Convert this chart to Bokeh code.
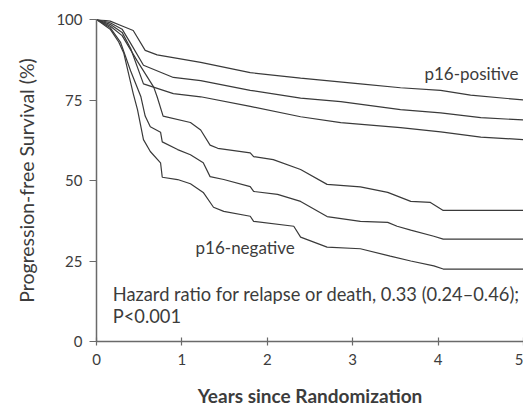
from bokeh.plotting import figure
from bokeh.models import FixedTicker, Range1d
from bokeh.core.properties import value
from bokeh.embed import file_html
from bokeh.resources import INLINE

# Years since randomization (x) and progression-free survival % (y)
pos_hi_t = [0, 0.16, 0.30, 0.43, 0.57, 0.71, 1.22, 1.80, 2.39, 3.09, 3.56, 4.03, 4.38, 5.0]
pos_hi_v = [100, 99.5, 98, 96.6, 90.4, 89, 86.7, 83.5, 81.8, 80, 78.8, 78, 76.5, 75]

pos_mid_t = [0, 0.16, 0.30, 0.40, 0.55, 0.90, 1.22, 1.80, 2.39, 2.86, 3.56, 4.03, 4.50, 5.0]
pos_mid_v = [100, 99, 97, 92.6, 85.8, 82, 81, 78, 75.6, 74.5, 72, 71, 69.5, 68.8]

pos_lo_t = [0, 0.16, 0.30, 0.40, 0.55, 0.90, 1.22, 1.80, 2.39, 2.86, 3.56, 4.03, 4.50, 5.0]
pos_lo_v = [100, 98.5, 96, 91, 80, 77, 76, 73, 69.8, 68, 66.4, 65.1, 63.5, 62.7]

neg_hi_t = [0, 0.16, 0.30, 0.48, 0.67, 0.71, 0.78, 1.10, 1.22, 1.33, 1.42, 1.80, 1.84, 2.07,
            2.39, 2.70, 3.09, 3.41, 3.68, 3.91, 4.06, 5.0]
neg_hi_v = [100, 98, 95, 87, 79, 76, 70, 68, 65.7, 61, 60, 58.6, 57.4, 56.5,
            53.4, 48.8, 48, 46.3, 43.5, 43.2, 40.7, 40.7]

neg_mid_t = [0, 0.16, 0.28, 0.40, 0.52, 0.57, 0.63, 0.75, 0.77, 0.95, 1.10, 1.25, 1.33, 1.49,
             1.80, 1.84, 2.12, 2.39, 2.70, 3.09, 3.41, 3.52, 3.68, 3.95, 4.06, 5.0]
neg_mid_v = [100, 97.5, 93, 84, 76, 70, 66.7, 65, 62, 59.6, 58, 55.5, 51.2, 50.3,
             48.1, 46.6, 45.7, 43.5, 38.8, 37.3, 37, 35.8, 34.6, 32.7, 31.8, 31.8]

neg_lo_t = [0, 0.16, 0.26, 0.32, 0.43, 0.48, 0.55, 0.63, 0.75, 0.77, 0.95, 1.10, 1.25, 1.37,
            1.49, 1.80, 1.84, 2.31, 2.39, 2.70, 3.09, 3.44, 3.68, 3.95, 4.06, 5.0]
neg_lo_v = [100, 97, 93, 89.5, 77, 72, 62.7, 59, 55.5, 51, 50.3, 49, 46.3, 41.7,
            40.4, 38.9, 37.3, 35.8, 32.4, 29.3, 28.8, 26.5, 25, 23.5, 22.5, 22.5]

x_ticks = [0, 1, 2, 3, 4, 5]
y_ticks = [0, 25, 50, 75, 100]

label_pos = "p16-positive"
label_neg = "p16-negative"
hazard_lines = ["Hazard ratio for relapse or death, 0.33 (0.24\u20130.46);", "P<0.001"]

FONT = "Lato"
LINE = "#3a3a3a"
AXIS = "#6a6a6a"
TXT = "#3c3c3c"

p = figure(width=523, height=409, output_backend="svg", toolbar_location=None,
           x_range=Range1d(0, 5), y_range=Range1d(0, 100),
           min_border_left=96, min_border_right=0, min_border_top=19, min_border_bottom=66)
p.outline_line_color = None
p.grid.grid_line_color = None
p.background_fill_color = "white"

for t, v in [(pos_hi_t, pos_hi_v), (pos_mid_t, pos_mid_v), (pos_lo_t, pos_lo_v),
             (neg_hi_t, neg_hi_v), (neg_mid_t, neg_mid_v), (neg_lo_t, neg_lo_v)]:
    p.line(t, v, line_color=LINE, line_width=1.2)

p.text(x=[3.84], y=[83.3], text=[label_pos], text_font=value(FONT), text_font_size="17px",
       text_color=TXT, text_baseline="middle", text_align="left")
p.text(x=[1.16], y=[29.3], text=[label_neg], text_font=value(FONT), text_font_size="17px",
       text_color=TXT, text_baseline="middle", text_align="left")
p.text(x=[0.19, 0.19], y=[14.8, 8.0], text=hazard_lines, text_font=value(FONT),
       text_font_size="18.3px", text_color=TXT, text_baseline="middle", text_align="left")

p.xaxis.ticker = FixedTicker(ticks=x_ticks)
p.yaxis.ticker = FixedTicker(ticks=y_ticks)
p.xaxis.minor_tick_line_color = None
p.yaxis.minor_tick_line_color = None
for ax in (p.xaxis, p.yaxis):
    ax.axis_line_color = AXIS
    ax.axis_line_width = 1.5
    ax.major_tick_line_color = AXIS
    ax.major_tick_line_width = 1.2
    ax.major_label_text_font = FONT
    ax.major_label_text_font_size = "15px"
    ax.major_label_text_color = TXT
    ax.axis_label_text_font = FONT
    ax.axis_label_text_color = TXT
    ax.axis_label_text_font_style = "normal"

p.xaxis.major_tick_in = 4
p.xaxis.major_tick_out = 4
p.yaxis.major_tick_in = 0
p.yaxis.major_tick_out = 7
p.xaxis.major_label_standoff = 8
p.yaxis.major_label_standoff = 7

p.xaxis.axis_label = "Years since Randomization"
p.xaxis.axis_label_text_font_style = "bold"
p.xaxis.axis_label_text_font_size = "19px"
p.xaxis.axis_label_standoff = 16
p.yaxis.axis_label = "Progression-free Survival (%)"
p.yaxis.axis_label_text_font_size = "19.5px"
p.yaxis.axis_label_standoff = 15

open("out.html", "w").write(file_html(p, INLINE))
